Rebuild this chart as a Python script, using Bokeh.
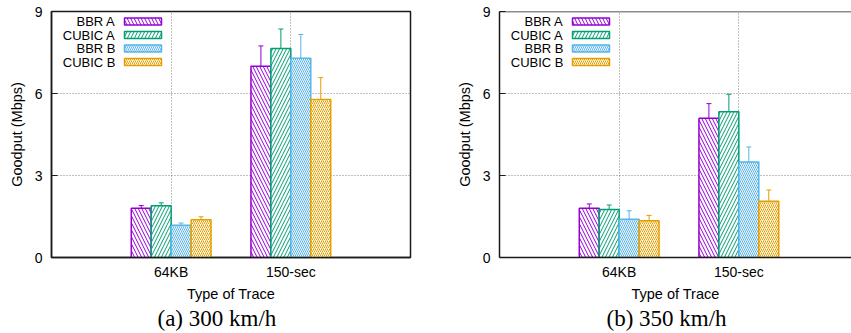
from bokeh.plotting import figure
from bokeh.layouts import row
from bokeh.models import (ColumnDataSource, FixedTicker, Range1d, Whisker, TeeHead,
                          Label, BoxAnnotation, Span, Title)
from bokeh.transform import dodge
from bokeh.embed import file_html
from bokeh.resources import INLINE

# ---------------- data ----------------
categories = ["64KB", "150-sec"]
series = ["BBR A", "CUBIC A", "BBR B", "CUBIC B"]
y_ticks = [0, 3, 6, 9]

# (a) 300 km/h
bbr_a_300 = [1.80, 7.00]
bbr_a_300_err = [0.10, 0.74]
cubic_a_300 = [1.89, 7.65]
cubic_a_300_err = [0.11, 0.71]
bbr_b_300 = [1.18, 7.29]
bbr_b_300_err = [0.08, 0.87]
cubic_b_300 = [1.38, 5.78]
cubic_b_300_err = [0.11, 0.80]

# (b) 350 km/h
bbr_a_350 = [1.80, 5.09]
bbr_a_350_err = [0.16, 0.54]
cubic_a_350 = [1.76, 5.33]
cubic_a_350_err = [0.16, 0.64]
bbr_b_350 = [1.40, 3.49]
bbr_b_350_err = [0.31, 0.55]
cubic_b_350 = [1.34, 2.06]
cubic_b_350_err = [0.20, 0.41]

# ---------------- styles ----------------
colors = ["#9400d3", "#009e73", "#56b4e9", "#e69f00"]
patterns = ["left_diagonal_line", "right_diagonal_line", "left_diagonal_line", "right_diagonal_line"]
hatch_scales = [7, 7, 4, 4]
offsets = [-0.25, -1 / 12, 1 / 12, 0.25]
BAR_W = 1 / 6
SANS = "Liberation Sans"
SERIF = "Liberation Serif"
FIG_H = 333
TOP = 11
BOTTOM = 76
FRAME_H = FIG_H - TOP - BOTTOM


def make_panel(values, errors, caption, cap_offset, width, bl, br, x_end, full_outline):
    p = figure(width=width, height=FIG_H, x_range=Range1d(-1, x_end), y_range=Range1d(0, 9),
               output_backend="svg", toolbar_location=None,
               min_border_left=bl, min_border_right=br, min_border_top=TOP,
               min_border_bottom=BOTTOM)
    p.background_fill_color = "white"
    p.border_fill_color = "white"
    if full_outline:
        p.outline_line_color = "#1a1a1a"
        p.outline_line_width = 1.5
    else:
        p.outline_line_color = None
        p.add_layout(Span(location=9, dimension="width", line_color="#1a1a1a", line_width=1.5))

    # axes
    p.xaxis.ticker = FixedTicker(ticks=list(range(len(categories))))
    p.xaxis.major_label_overrides = {i: c for i, c in enumerate(categories)}
    p.yaxis.ticker = FixedTicker(ticks=y_ticks)
    for ax in (p.xaxis[0], p.yaxis[0]):
        ax.axis_line_color = "#1a1a1a"
        ax.axis_line_width = 1.5
        ax.major_tick_out = 0
        ax.minor_tick_line_color = None
        ax.major_label_text_font = SANS
        ax.major_label_text_font_size = "14px"
        ax.major_label_text_color = "black"
        ax.axis_label_text_font = SANS
        ax.axis_label_text_font_size = "14.5px"
        ax.axis_label_text_font_style = "normal"
        ax.axis_label_text_color = "black"
    p.xaxis.major_tick_in = 0
    p.xaxis.major_label_standoff = 6
    p.xaxis.axis_label = "Type of Trace"
    p.xaxis.axis_label_standoff = 3
    p.yaxis.major_tick_in = 6
    p.yaxis.major_tick_line_color = "#1a1a1a"
    p.yaxis.major_label_standoff = 9
    p.yaxis.axis_label = "Goodput (Mbps)"
    p.yaxis.axis_label_standoff = 7

    p.grid.grid_line_color = "#808080"
    p.grid.grid_line_dash = "1 2"
    p.grid.grid_line_width = 1

    # bars + error bars
    for i, name in enumerate(series):
        vals = values[i]
        errs = errors[i]
        src = ColumnDataSource(dict(
            x=list(range(len(categories))),
            top=vals,
            upper=[v + e for v, e in zip(vals, errs)],
            lower=[v - e for v, e in zip(vals, errs)],
        ))
        xs = dodge("x", offsets[i], range=p.x_range)
        p.vbar(x=xs, top="top", width=BAR_W, source=src,
               fill_color="white", line_color=colors[i], line_width=1.5,
               hatch_pattern=patterns[i], hatch_color=colors[i],
               hatch_scale=hatch_scales[i], hatch_weight=1)
        w = Whisker(source=src, base=xs, upper="upper", lower="lower",
                    line_color=colors[i], line_width=1,
                    upper_head=TeeHead(size=5, line_color=colors[i], line_width=1),
                    lower_head=TeeHead(size=5, line_color=colors[i], line_width=1))
        p.add_layout(w)

    # legend (label left, sample right, gnuplot style)
    for i, name in enumerate(series):
        cy = FRAME_H - (10 + 13.5 * i)
        p.add_layout(Label(x=64, y=cy, x_units="screen", y_units="screen", text=name,
                           text_align="right", text_baseline="middle",
                           text_font=SANS, text_font_size="13px", text_color="black"))
        p.add_layout(BoxAnnotation(left=73, right=110, bottom=cy - 3.5, top=cy + 3.5,
                                   left_units="screen", right_units="screen",
                                   bottom_units="screen", top_units="screen",
                                   fill_color="white", fill_alpha=1,
                                   line_color=colors[i], line_width=1.5, line_alpha=1,
                                   hatch_pattern=patterns[i], hatch_color=colors[i],
                                   hatch_scale=hatch_scales[i], hatch_weight=1,
                                   level="overlay"))

    # caption below the axis
    p.add_layout(Title(text=caption, align="left", offset=cap_offset,
                       vertical_align="middle", standoff=0,
                       text_font=SERIF, text_font_size="23px",
                       text_font_style="normal", text_color="black"), "below")
    return p


vals_300 = [bbr_a_300, cubic_a_300, bbr_b_300, cubic_b_300]
errs_300 = [bbr_a_300_err, cubic_a_300_err, bbr_b_300_err, cubic_b_300_err]
vals_350 = [bbr_a_350, cubic_a_350, bbr_b_350, cubic_b_350]
errs_350 = [bbr_a_350_err, cubic_a_350_err, bbr_b_350_err, cubic_b_350_err]

px_per_unit = 359 / 3
p1 = make_panel(vals_300, errs_300, "(a) 300 km/h", 106, 430, 51, 20, 2, True)
p2 = make_panel(vals_350, errs_350, "(b) 350 km/h", 107, 421, 69, 0,
                -1 + 352 / px_per_unit, False)

layout = row(p1, p2)
open("out.html", "w").write(file_html(layout, INLINE))
